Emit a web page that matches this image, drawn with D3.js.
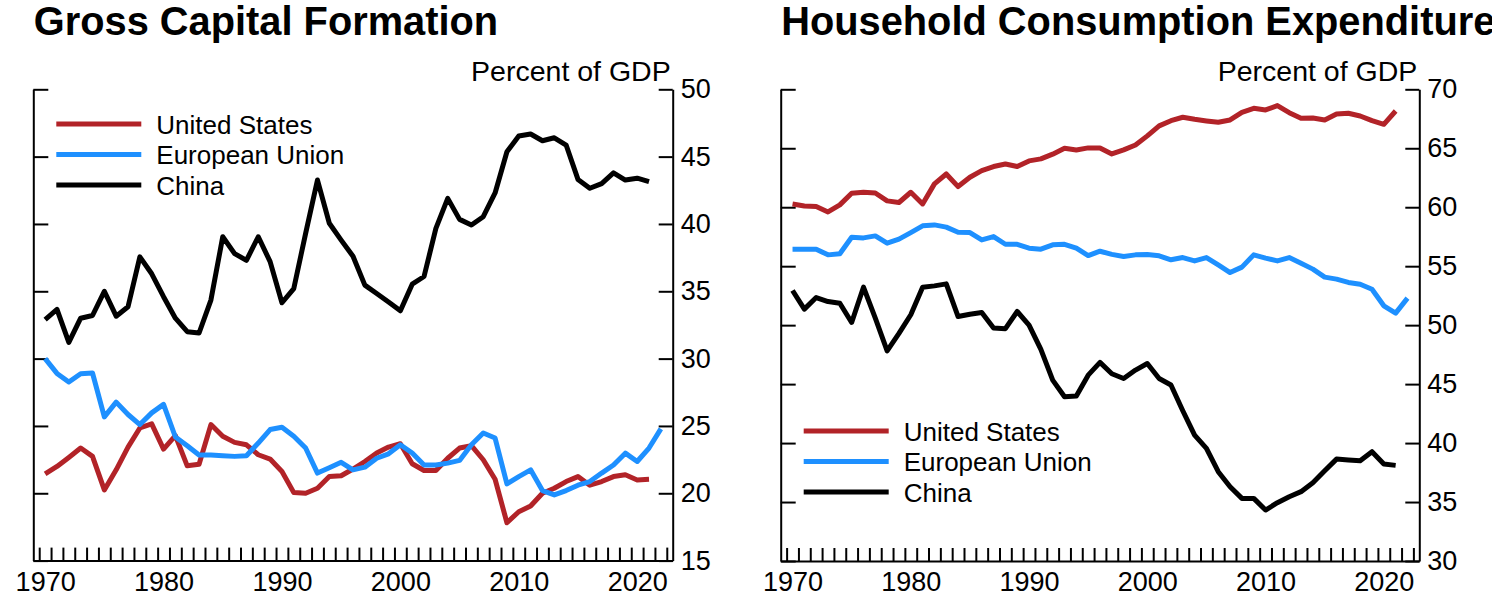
<!DOCTYPE html>
<html>
<head>
<meta charset="utf-8">
<script src="https://cdn.jsdelivr.net/npm/d3@7"></script>
<style>
  body { margin: 0; background: #fff; }
  svg { display: block; }
  text { font-family: "Liberation Sans", Arial, Helvetica, sans-serif; fill: #000; }
</style>
</head>
<body>
<div id="chart"></div>
<script>
// years 1970..2022 (some series stop at 2021)
let years = d3.range(1970, 2023)
let seriesNames = ['United States', 'European Union', 'China']
let seriesColors = ['#b22328', '#1e90ff', '#000000']

// gross capital formation, percent of GDP
let usGCF = [21.44, 21.99, 22.66, 23.36, 22.74, 20.25, 21.74, 23.43, 24.85, 25.15,
  23.28, 24.28, 22.04, 22.16, 25.1, 24.23, 23.78, 23.6, 22.86, 22.54,
  21.62, 20.05, 20.0, 20.37, 21.24, 21.3, 21.8, 22.36, 22.99, 23.43,
  23.68, 22.19, 21.69, 21.69, 22.6, 23.36, 23.53, 22.49, 21.04, 17.81,
  18.63, 19.05, 20.0, 20.37, 20.87, 21.24, 20.6, 20.87, 21.24, 21.37,
  20.99, 21.04]
let euGCF = [30.0, 28.9, 28.26, 28.88, 28.93, 25.67, 26.77, 25.85, 25.1, 25.97,
  26.6, 24.18, 23.53, 22.84, 22.84, 22.79, 22.74, 22.79, 23.73, 24.73,
  24.9, 24.23, 23.36, 21.5, 21.9, 22.3, 21.74, 21.94, 22.6, 22.93,
  23.6, 22.99, 22.1, 22.1, 22.24, 22.44, 23.6, 24.48, 24.1, 20.7,
  21.24, 21.74, 20.2, 19.88, 20.2, 20.6, 20.87, 21.5, 22.1, 22.98,
  22.36, 23.36, 24.78]
let chinaGCF = [32.9, 33.65, 31.2, 33.0, 33.2, 35.0, 33.15, 33.85, 37.56, 36.3,
  34.6, 33.0, 32.0, 31.9, 34.35, 39.05, 37.8, 37.3, 39.05, 37.2,
  34.15, 35.2, 39.3, 43.26, 40.05, 38.8, 37.6, 35.46, 34.84, 34.2,
  33.55, 35.53, 36.1, 39.67, 41.9, 40.34, 39.92, 40.54, 42.3, 45.36,
  46.53, 46.68, 46.18, 46.4, 45.86, 43.31, 42.65, 43.0, 43.8, 43.26,
  43.4, 43.14]

// household consumption expenditure, percent of GDP
let usHCE = [60.28, 60.11, 60.06, 59.6, 60.2, 61.19, 61.27, 61.21, 60.54, 60.4,
  61.27, 60.28, 61.98, 62.82, 61.75, 62.54, 63.1, 63.45, 63.67, 63.45,
  63.93, 64.1, 64.5, 65.0, 64.86, 65.03, 65.03, 64.52, 64.86, 65.28,
  66.05, 66.9, 67.34, 67.63, 67.46, 67.32, 67.2, 67.4, 68.05, 68.39,
  68.25, 68.62, 68.02, 67.54, 67.57, 67.4, 67.91, 67.97, 67.74, 67.34,
  67.03, 68.16]
let euHCE = [56.44, 56.44, 56.44, 55.96, 56.05, 57.46, 57.4, 57.57, 56.95, 57.29,
  57.85, 58.42, 58.5, 58.31, 57.88, 57.85, 57.23, 57.51, 56.86, 56.86,
  56.53, 56.44, 56.81, 56.86, 56.53, 55.9, 56.27, 56.0, 55.82, 55.96,
  55.99, 55.88, 55.54, 55.73, 55.45, 55.73, 55.11, 54.46, 54.92, 55.96,
  55.68, 55.45, 55.73, 55.25, 54.75, 54.07, 53.9, 53.62, 53.47, 53.05,
  51.64, 51.02, 52.29]
let chinaHCE = [52.94, 51.36, 52.34, 52.0, 51.86, 50.23, 53.22, 50.6, 47.82, 49.3,
  50.88, 53.22, 53.33, 53.5, 50.73, 50.93, 51.07, 49.75, 49.7, 51.16,
  50.0, 47.94, 45.34, 43.93, 44.0, 45.76, 46.84, 45.88, 45.48, 46.19,
  46.75, 45.48, 44.92, 42.74, 40.68, 39.55, 37.57, 36.3, 35.31, 35.31,
  34.32, 34.94, 35.45, 35.88, 36.64, 37.66, 38.64, 38.56, 38.5, 39.27,
  38.22, 38.11]

let xLabels = [1970, 1980, 1990, 2000, 2010, 2020]
let gcfTicks = [15, 20, 25, 30, 35, 40, 45, 50]
let hceTicks = [30, 35, 40, 45, 50, 55, 60, 65, 70]

let w = 1492
let h = 599
let svg = d3.select('#chart').append('svg').attr('width', w).attr('height', h)

function panel(opt) {
  let x = d3.scaleLinear().domain([1969, 2023]).range([opt.left, opt.right])
  let y = d3.scaleLinear().domain(opt.domain).range([opt.bottom, opt.top])
  let g = svg.append('g')

  g.append('text').text(opt.title)
    .attr('x', opt.left + 0.5).attr('y', 35)
    .style('font-size', '39.8px').style('font-weight', 'bold')

  g.append('text').text('Percent of GDP')
    .attr('x', opt.right - 2).attr('y', 81)
    .attr('text-anchor', 'end')
    .style('font-size', '28.5px')

  // minor year ticks along the bottom, pointing up
  let halfYears = d3.range(1969.5, 2023, 1)
  let xMinor = d3.axisBottom(x).tickValues(halfYears).tickSizeInner(-13).tickSizeOuter(0).tickFormat('')
  g.append('g').attr('transform', 'translate(0,' + opt.bottom + ')').call(xMinor)

  let xLab = d3.axisBottom(x).tickValues(xLabels).tickSize(0).tickPadding(11).tickFormat(d3.format('d'))
  let xl = g.append('g').attr('transform', 'translate(0,' + opt.bottom + ')').call(xLab)
  xl.select('.domain').remove()
  xl.selectAll('text').style('font-size', '27px')

  // left axis: ticks only
  let yL = d3.axisRight(y).tickValues(opt.ticks).tickSizeInner(15).tickSizeOuter(0).tickFormat('')
  g.append('g').attr('transform', 'translate(' + opt.left + ',0)').call(yL)

  // right axis: ticks inward, labels outside
  let yR = d3.axisRight(y).tickValues(opt.ticks).tickSizeInner(-14).tickSizeOuter(0).tickPadding(8)
  let yr = g.append('g').attr('transform', 'translate(' + opt.right + ',0)').call(yR)
  yr.selectAll('text').style('font-size', '27px')

  g.selectAll('.domain, .tick line').attr('stroke', '#000').attr('stroke-width', 2)
  g.selectAll('.tick text').attr('fill', '#000').style('font-family', '"Liberation Sans", Arial, sans-serif')

  let line = d3.line().x((d, i) => x(years[i])).y(d => y(d))
  opt.series.forEach((s, k) => {
    g.append('path').datum(s)
      .attr('d', line)
      .attr('fill', 'none')
      .attr('stroke', seriesColors[k])
      .attr('stroke-width', 5)
      .attr('stroke-linejoin', 'round')
  })

  // legend
  let lg = g.append('g').attr('transform', 'translate(' + opt.left + ',0)')
  seriesNames.forEach((n, k) => {
    let ly = opt.legendY + k * 30.5
    lg.append('line').attr('x1', 23).attr('x2', 108).attr('y1', ly).attr('y2', ly)
      .attr('stroke', seriesColors[k]).attr('stroke-width', 5)
    lg.append('text').text(n).attr('x', 123).attr('y', ly).attr('dy', '0.37em')
      .style('font-size', '26px')
  })
}

panel({
  title: 'Gross Capital Formation',
  left: 33.3, right: 672.7, top: 89.3, bottom: 560.6,
  domain: [15, 50], ticks: gcfTicks,
  series: [usGCF, euGCF, chinaGCF],
  legendY: 124
})

panel({
  title: 'Household Consumption Expenditure',
  left: 780.7, right: 1419.3, top: 89.3, bottom: 561,
  domain: [30, 70], ticks: hceTicks,
  series: [usHCE, euHCE, chinaHCE],
  legendY: 431
})
</script>
</body>
</html>
